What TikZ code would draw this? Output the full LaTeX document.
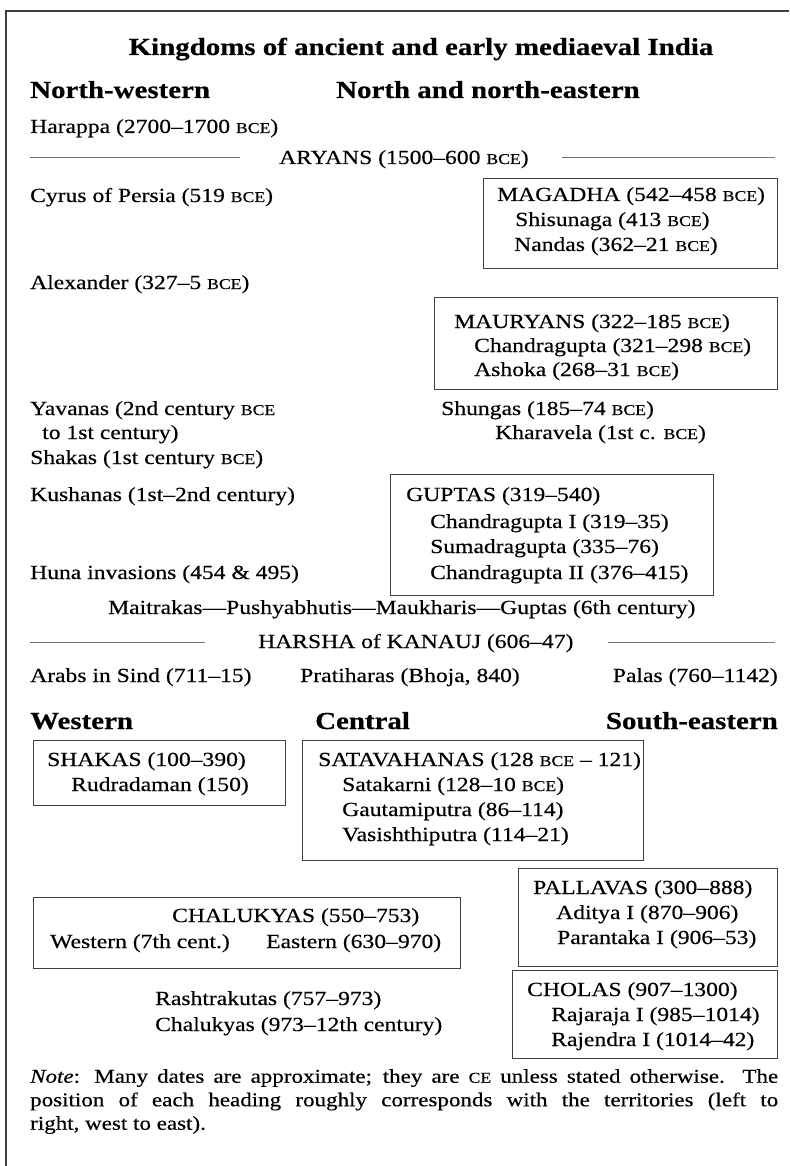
\documentclass[tikz,border=0pt]{standalone}
\usepackage{fontspec}
\setmainfont{Liberation Serif}[FakeStretch=1.18, FakeBold=0.4]
\newcommand\smc[1]{{\fontsize{15}{15}\selectfont #1}}
\newcommand\bce{\smc{BCE}}
\begin{document}
\begin{tikzpicture}[x=1pt,y=-1pt,
  t/.style={anchor=base west, inner sep=0pt, font=\fontsize{20}{25}\selectfont},
  te/.style={t, anchor=base east},
  hd/.style={anchor=base west, inner sep=0pt, font=\fontsize{24.5}{28}\selectfont\bfseries},
  bx/.style={draw=black!75, line width=1.1pt, anchor=north west, inner sep=0pt},
  rl/.style={draw=black!55, line width=1pt},
  fr/.style={draw=black!75, line width=1.5pt}]
\useasboundingbox (0,0) rectangle (789,1166);
% frame
\coordinate (ftl) at (6,11);
\coordinate (ftr) at (789,11);
\coordinate (fbl) at (6,1166);
\draw[fr] (ftr) -- (ftl) -- (fbl);

% title and headings
\node[hd, anchor=base] (title) at (421,55) {Kingdoms of ancient and early mediaeval India};
\node[hd] (hnw) at (30,98) {North-western};
\node[hd] (hne) at (336,98) {North and north-eastern};

\node[t] (harappa) at (30,133) {Harappa (2700–1700 \bce)};

% Aryans rule
\coordinate (ar1) at (30,158); \coordinate (ar2) at (240,158);
\coordinate (ar3) at (562,158); \coordinate (ar4) at (775,158);
\draw[rl] (ar1) -- (ar2);
\draw[rl] (ar3) -- (ar4);
\node[t] (aryans) at (279,164) {ARYANS (1500–600 \bce)};

\node[t] (cyrus) at (30,202) {Cyrus of Persia (519 \bce)};
\node[bx, minimum width=294pt, minimum height=90pt] (magbox) at (483,178) {};
\node[t] (magadha) at (497,201) {MAGADHA (542–458 \bce)};
\node[t] (shisu) at (515,226) {Shisunaga (413 \bce)};
\node[t] (nandas) at (514,251) {Nandas (362–21 \bce)};

\node[t] (alex) at (30,289) {Alexander (327–5 \bce)};
\node[bx, minimum width=343pt, minimum height=92pt] (maurbox) at (434,297) {};
\node[t] (maur) at (454,328) {MAURYANS (322–185 \bce)};
\node[t] (chandra) at (474,352) {Chandragupta (321–298 \bce)};
\node[t] (ashoka) at (474,376) {Ashoka (268–31 \bce)};

\node[t] (yav1) at (30,415) {Yavanas (2nd century \bce};
\node[t] (yav2) at (42,439) {to 1st century)};
\node[t] (shakas1) at (30,464) {Shakas (1st century \bce)};
\node[t] (shungas) at (441,415) {Shungas (185–74 \bce)};
\node[t] (khara) at (495,439) {Kharavela (1st c. \bce)};

\node[t] (kushanas) at (30,501) {Kushanas (1st–2nd century)};
\node[bx, minimum width=323pt, minimum height=121pt] (gupbox) at (390,474) {};
\node[t] (guptas) at (406,501) {GUPTAS (319–540)};
\node[t] (cg1) at (430,528) {Chandragupta I (319–35)};
\node[t] (suma) at (430,553) {Sumadragupta (335–76)};
\node[t] (cg2) at (430,579) {Chandragupta II (376–415)};
\node[t] (huna) at (30,579) {Huna invasions (454 \& 495)};

\node[t] (maitra) at (108,614) {Maitrakas—Pushyabhutis—Maukharis—Guptas (6th century)};

% Harsha rule
\coordinate (hr1) at (30,642); \coordinate (hr2) at (205,642);
\coordinate (hr3) at (608,642); \coordinate (hr4) at (775,642);
\draw[rl] (hr1) -- (hr2);
\draw[rl] (hr3) -- (hr4);
\node[t] (harsha) at (258,648) {HARSHA of KANAUJ (606–47)};

\node[t] (arabs) at (30,682) {Arabs in Sind (711–15)};
\node[t] (prati) at (300,682) {Pratiharas (Bhoja, 840)};
\node[te] (palas) at (778,682) {Palas (760–1142)};

\node[hd] (hw) at (30,729) {Western};
\node[hd] (hc) at (315,729) {Central};
\node[hd, anchor=base east] (hse) at (778,729) {South-eastern};

\node[bx, minimum width=252pt, minimum height=65pt] (shbox) at (33,740) {};
\node[t] (shakas2) at (47,766) {SHAKAS (100–390)};
\node[t] (rudra) at (71,791) {Rudradaman (150)};

\node[bx, minimum width=341pt, minimum height=120pt] (satbox) at (302,740) {};
\node[t] (sata) at (318,766) {SATAVAHANAS (128 \bce{} – 121)};
\node[t] (satak) at (342,791) {Satakarni (128–10 \bce)};
\node[t] (gauta) at (342,816) {Gautamiputra (86–114)};
\node[t] (vasi) at (342,841) {Vasishthiputra (114–21)};

\node[bx, minimum width=259pt, minimum height=98pt] (palbox) at (518,868) {};
\node[t] (pall) at (533,894) {PALLAVAS (300–888)};
\node[t] (aditya) at (556,919) {Aditya I (870–906)};
\node[t] (paran) at (557,944) {Parantaka I (906–53)};

\node[bx, minimum width=427pt, minimum height=71pt] (chabox) at (33,897) {};
\node[t] (chalu) at (172,922) {CHALUKYAS (550–753)};
\node[t] (west) at (50,948) {Western (7th cent.)};
\node[t] (east) at (266,948) {Eastern (630–970)};

\node[bx, minimum width=265pt, minimum height=88pt] (chobox) at (512,970) {};
\node[t] (cholas) at (527,996) {CHOLAS (907–1300)};
\node[t] (raja) at (551,1021) {Rajaraja I (985–1014)};
\node[t] (rajen) at (551,1046) {Rajendra I (1014–42)};

\node[t] (rash) at (155,1005) {Rashtrakutas (757–973)};
\node[t] (chalu2) at (155,1031) {Chalukyas (973–12th century)};

\node[anchor=north west, inner sep=0pt, text width=748pt, align=justify,
      font=\fontsize{19.5}{23.5}\selectfont] (note) at (30,1069)
 {\textit{Note}: Many dates are approximate; they are \smc{CE} unless stated otherwise. The\linebreak
  position of each heading roughly corresponds with the territories (left to\linebreak
  right, west to east).};
\end{tikzpicture}
\end{document}
